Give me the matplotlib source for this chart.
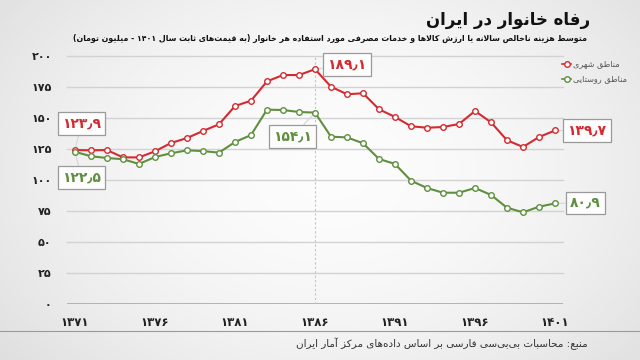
import numpy as np
import matplotlib
matplotlib.use("Agg")
import matplotlib.pyplot as plt

plt.rcParams['font.family'] = ['DejaVu Sans']

# ---- data ----
years = list(range(1371, 1402))
urban = [123.9, 123.7, 123.9, 118.0, 118.0, 122.9, 129.6, 133.6, 139.3, 144.7,
         159.4, 163.7, 179.3, 184.4, 184.4, 189.1, 175.0, 168.9, 169.7, 156.8,
         150.6, 143.1, 141.9, 142.5, 144.9, 155.4, 146.3, 131.8, 126.4, 134.4, 139.7]
rural = [122.5, 118.9, 117.5, 116.5, 112.7, 118.3, 121.3, 123.7, 123.1, 121.8,
         130.4, 136.0, 156.5, 156.2, 154.6, 154.1, 134.7, 134.1, 129.4, 116.7,
         112.7, 99.2, 93.3, 89.5, 89.5, 93.3, 87.7, 77.4, 73.7, 78.2, 80.9]
xtick_years = [1371, 1376, 1381, 1386, 1391, 1396, 1401]
yticks = [0, 25, 50, 75, 100, 125, 150, 175, 200]

title = "رفاه خانوار در ایران"
subtitle = "متوسط هزینه ناخالص سالانه یا ارزش کالاها و خدمات مصرفی مورد استفاده هر خانوار (به قیمت‌های ثابت سال ۱۴۰۱ - میلیون تومان)"
legend_urban = "مناطق شهری"
legend_rural = "مناطق روستایی"
source = "منبع: محاسبات بی‌بی‌سی فارسی بر اساس داده‌های مرکز آمار ایران"

RED = "#d42a2f"
GREEN = "#5f8f3e"

# ---- minimal persian shaping (no shaping engine in matplotlib) ----
FORMS = {  # isolated, final, initial, medial
    'ا': ('\uFE8D', '\uFE8E'), 'آ': ('\uFE81', '\uFE82'),
    'ب': ('\uFE8F', '\uFE90', '\uFE91', '\uFE92'), 'پ': ('\uFB56', '\uFB57', '\uFB58', '\uFB59'),
    'ت': ('\uFE95', '\uFE96', '\uFE97', '\uFE98'), 'ث': ('\uFE99', '\uFE9A', '\uFE9B', '\uFE9C'),
    'ج': ('\uFE9D', '\uFE9E', '\uFE9F', '\uFEA0'), 'چ': ('\uFB7A', '\uFB7B', '\uFB7C', '\uFB7D'),
    'ح': ('\uFEA1', '\uFEA2', '\uFEA3', '\uFEA4'), 'خ': ('\uFEA5', '\uFEA6', '\uFEA7', '\uFEA8'),
    'د': ('\uFEA9', '\uFEAA'), 'ذ': ('\uFEAB', '\uFEAC'), 'ر': ('\uFEAD', '\uFEAE'),
    'ز': ('\uFEAF', '\uFEB0'), 'ژ': ('\uFB8A', '\uFB8B'),
    'س': ('\uFEB1', '\uFEB2', '\uFEB3', '\uFEB4'), 'ش': ('\uFEB5', '\uFEB6', '\uFEB7', '\uFEB8'),
    'ص': ('\uFEB9', '\uFEBA', '\uFEBB', '\uFEBC'), 'ض': ('\uFEBD', '\uFEBE', '\uFEBF', '\uFEC0'),
    'ط': ('\uFEC1', '\uFEC2', '\uFEC3', '\uFEC4'), 'ظ': ('\uFEC5', '\uFEC6', '\uFEC7', '\uFEC8'),
    'ع': ('\uFEC9', '\uFECA', '\uFECB', '\uFECC'), 'غ': ('\uFECD', '\uFECE', '\uFECF', '\uFED0'),
    'ف': ('\uFED1', '\uFED2', '\uFED3', '\uFED4'), 'ق': ('\uFED5', '\uFED6', '\uFED7', '\uFED8'),
    'ک': ('\uFB8E', '\uFB8F', '\uFB90', '\uFB91'), 'گ': ('\uFB92', '\uFB93', '\uFB94', '\uFB95'),
    'ل': ('\uFEDD', '\uFEDE', '\uFEDF', '\uFEE0'), 'م': ('\uFEE1', '\uFEE2', '\uFEE3', '\uFEE4'),
    'ن': ('\uFEE5', '\uFEE6', '\uFEE7', '\uFEE8'), 'و': ('\uFEED', '\uFEEE'),
    'ه': ('\uFEE9', '\uFEEA', '\uFEEB', '\uFEEC'), 'ی': ('\uFBFC', '\uFBFD', '\uFBFE', '\uFBFF'),
}
LAMALEF = {'ا': ('\uFEFB', '\uFEFC'), 'آ': ('\uFEF5', '\uFEF6')}
DIGITS = set('۰۱۲۳۴۵۶۷۸۹٫0123456789')


def dual(c):
    return c in FORMS and len(FORMS[c]) == 4


def fa(s):
    out = []
    i = 0
    n = len(s)
    while i < n:
        c = s[i]
        if c not in FORMS:
            if c != '\u200c':
                out.append(c)
            i += 1
            continue
        prev = s[i - 1] if i > 0 else ''
        join_prev = dual(prev)
        if c == 'ل' and i + 1 < n and s[i + 1] in LAMALEF:
            out.append(LAMALEF[s[i + 1]][1 if join_prev else 0])
            i += 2
            continue
        nxt = s[i + 1] if i + 1 < n else ''
        join_next = dual(c) and nxt in FORMS
        f = FORMS[c]
        if join_prev and join_next:
            out.append(f[3])
        elif join_prev:
            out.append(f[1])
        elif join_next:
            out.append(f[2])
        else:
            out.append(f[0])
        i += 1
    # visual order: reverse, keep digit runs LTR, mirror brackets
    rev = out[::-1]
    res = []
    run = []
    for c in rev:
        if c in DIGITS:
            run.append(c)
            continue
        if run:
            res.extend(run[::-1])
            run = []
        res.append({'(': ')', ')': '('}.get(c, c))
    res.extend(run[::-1])
    return ''.join(res)


def fa_num(v):
    d = str(v).translate(str.maketrans('0123456789', '۰۱۲۳۴۵۶۷۸۹'))
    return d.replace('.', '٫')


# ---- figure ----
fig = plt.figure(figsize=(6.4, 3.6), dpi=100)

# soft radial background
bg = fig.add_axes([0, 0, 1, 1], zorder=-10)
yy, xx = np.mgrid[0:360, 0:640]
r = np.sqrt(((xx - 330) / 430.0) ** 2 + ((yy - 170) / 310.0) ** 2)
shade = 0.99 - 0.12 * np.clip(r, 0, 1.2) ** 1.8
bg.imshow(np.dstack([shade] * 3), extent=[0, 1, 0, 1], aspect='auto')
bg.axis('off')

ax = fig.add_axes([67 / 640, 1 - 303.7 / 360, 496 / 640, 248 / 360])
ax.set_facecolor('none')
ax.set_xlim(1370.5, 1401.5)
ax.set_ylim(0, 200)

for v in yticks[1:]:
    ax.axhline(v, color='#d2d2d2', lw=1.0, zorder=0, clip_on=False)
ax.axhline(0, color='#a8a8a8', lw=1.2, zorder=0)
ax.axvline(1386, color='#c4c4c4', lw=0.8, ls=(0, (2, 2)), zorder=0)

ax.plot(years, urban, color=RED, lw=1.5, marker='o', ms=4, mfc='white',
        mec=RED, mew=1.0, zorder=3, clip_on=False)
ax.plot(years, rural, color=GREEN, lw=1.5, marker='o', ms=4, mfc='white',
        mec=GREEN, mew=1.0, zorder=3, clip_on=False)

for s in ax.spines.values():
    s.set_visible(False)
ax.set_xticks(xtick_years)
ax.set_xticklabels([fa_num(y) for y in xtick_years], fontsize=8.5,
                   fontweight='bold', color='#222222')
ax.set_yticks(yticks)
ax.set_yticklabels([fa_num(v) for v in yticks], fontsize=8,
                   fontweight='bold', color='#222222')
ax.tick_params(axis='both', length=0)
ax.tick_params(axis='x', pad=9)
ax.tick_params(axis='y', pad=11)

# value boxes
boxes = [
    (urban[0], years[0], 1371.4, 145.3, RED),
    (rural[0], years[0], 1371.4, 101.8, GREEN),
    (rural[15], years[15], 1384.6, 134.8, GREEN),
    (urban[15], years[15], 1388.0, 192.9, RED),
    (urban[-1], years[-1], 1403.0, 139.7, RED),
    (rural[-1], years[-1], 1402.9, 81.2, GREEN),
]
for val, xp, xt, yt, col in boxes:
    ax.plot([xp, xt], [val, yt], color='#d6d6d6', lw=0.8, zorder=1, clip_on=False)
    ax.text(xt, yt, fa_num(val), color=col, fontsize=10, fontweight='bold',
            ha='center', va='center', zorder=5, clip_on=False,
            bbox=dict(boxstyle='square,pad=0.3', fc='#fdfdfd', ec='#9a9a9a', lw=0.9))

# legend (marker left of text)
for i, (lab, col) in enumerate([(legend_urban, RED), (legend_rural, GREEN)]):
    yf = 1 - (64 + 15 * i) / 360
    fig.lines.append(plt.Line2D([562 / 640, 571 / 640], [yf, yf], color=col, lw=1.2,
                                transform=fig.transFigure))
    fig.lines.append(plt.Line2D([567 / 640], [yf], color=col, marker='o', ms=4,
                                mfc='white', mec=col, mew=1.0, transform=fig.transFigure))
    fig.text(573 / 640, yf, fa(lab), fontsize=5.9, color='#555555', ha='left', va='center')

# titles
fig.text(590 / 640, 1 - 20 / 360, fa(title), fontsize=12, fontweight='bold',
         color='#111111', ha='right', va='center')
fig.text(587 / 640, 1 - 38 / 360, fa(subtitle), fontsize=5.7, fontweight='bold',
         color='#111111', ha='right', va='center')

# source
fig.lines.append(plt.Line2D([0, 1], [1 - 331 / 360, 1 - 331 / 360], color='#9a9a9a',
                            lw=0.8, transform=fig.transFigure))
fig.text(588 / 640, 1 - 344 / 360, fa(source), fontsize=7.5, color='#333333',
         ha='right', va='center')

fig.savefig('out.png', dpi=100)
